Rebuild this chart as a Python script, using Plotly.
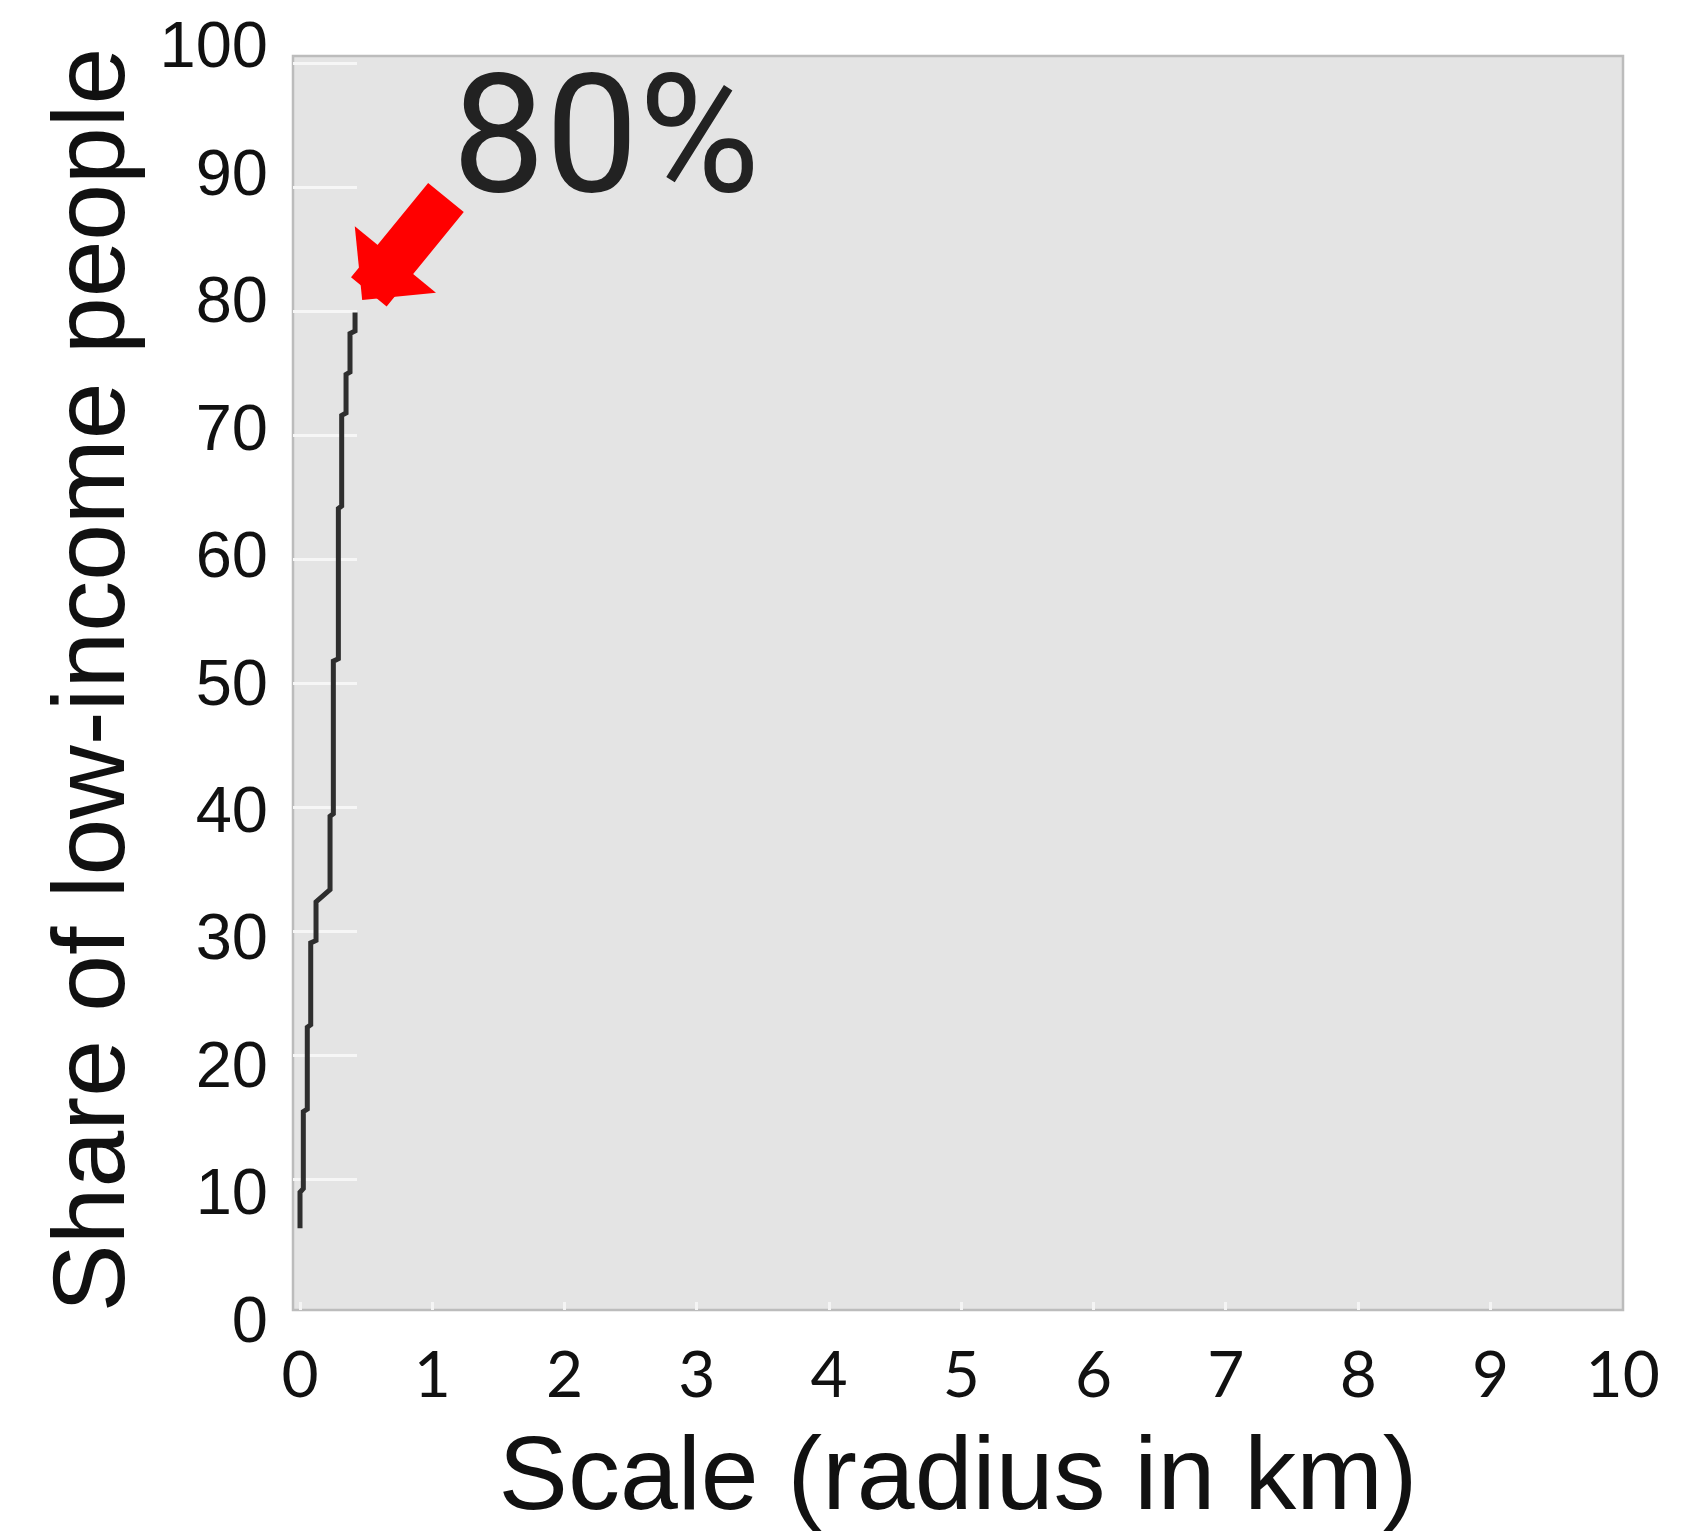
import plotly.graph_objects as go

# ---- data ----
radius_km = [0.0, 0.0, 0.025, 0.025, 0.055, 0.055, 0.081, 0.081, 0.121, 0.121,
             0.227, 0.227, 0.252, 0.252, 0.29, 0.29, 0.315, 0.315, 0.348, 0.348,
             0.378, 0.378, 0.416, 0.416]
share_pct = [6.1, 9.0, 9.3, 15.5, 15.7, 22.3, 22.5, 29.1, 29.3, 32.4,
             33.4, 39.3, 39.5, 51.8, 52.0, 64.1, 64.3, 71.6, 71.8, 74.9,
             75.1, 78.2, 78.4, 79.9]
x_ticks = list(range(0, 11))
y_ticks = list(range(0, 101, 10))
grid_ticks = list(range(10, 101, 10))
callout_text = "80%"
callout_point = (0.47, 80.9)
callout_label_pos = (2.31, 94.2)

W, H = 1691, 1540
BODY = 8  # default page body margin offset
M_L, M_R, M_T, M_B = 293 - BODY, 68 + BODY, 30 - BODY, 210 + BODY
paper_h = H - M_T - M_B
plot_top_px, plot_bot_px = 56, 1310
dom_lo = (1330 - plot_bot_px) / paper_h
dom_hi = (1330 - plot_top_px) / paper_h

fig = go.Figure()
# empty trace so the label axis is drawn
fig.add_trace(go.Scatter(x=[], y=[], xaxis="x", yaxis="y", showlegend=False, hoverinfo="skip"))
fig.add_trace(go.Scatter(
    x=radius_km, y=share_pct, xaxis="x", yaxis="y2", mode="lines",
    line=dict(color="#2e2e2e", width=5), showlegend=False,
))

# grey plot area with light border
fig.add_shape(type="rect", xref="paper", yref="paper", x0=0, x1=1, y0=dom_lo, y1=dom_hi,
              fillcolor="#e4e4e4", line=dict(color="#bcbcbc", width=2.5), layer="below")

label_font = dict(family="Liberation Sans, Arial, sans-serif", color="#111111")

fig.update_layout(
    width=W, height=H,
    margin=dict(l=M_L, r=M_R, t=M_T, b=M_B, autoexpand=False),
    paper_bgcolor="white", plot_bgcolor="rgba(0,0,0,0)",
    showlegend=False,
    xaxis=dict(
        range=[-0.053, 10.002], tickvals=x_ticks, ticktext=[str(v) for v in x_ticks],
        anchor="free", position=dom_lo, automargin=False,
        showgrid=False, zeroline=False, showline=False,
        ticks="inside", ticklen=8, tickwidth=3, tickcolor="#f4f4f4",
        tickfont=dict(family="Lato, sans-serif", size=64, color="#111111"),
        ticklabelstandoff=22,
        title=dict(text="Scale (radius in km)", font=dict(size=104, **label_font), standoff=26),
    ),
    yaxis=dict(
        range=[-0.863, 101.14], tickvals=y_ticks, ticktext=[str(v) for v in y_ticks],
        domain=[0, 1], automargin=False,
        showgrid=False, zeroline=False, showline=False, ticks="",
        tickfont=dict(size=65, **label_font), ticklabelstandoff=24,
        title=dict(text="Share of low-income people", font=dict(size=102, **label_font), standoff=0),
    ),
    yaxis2=dict(
        range=[-2.095, 102.66], overlaying="y", side="left", automargin=False,
        tickvals=grid_ticks, showticklabels=False,
        showgrid=False, zeroline=False, showline=False,
        ticks="inside", ticklen=64, tickwidth=3, tickcolor="#f6f6f6",
        layer="below traces",
    ),
)

fig.add_annotation(
    x=callout_point[0], y=callout_point[1], xref="x", yref="y2",
    ax=85, ay=-104, axref="pixel", ayref="pixel",
    showarrow=True, arrowhead=1, arrowwidth=46, arrowsize=0.38, arrowcolor="#ff0000",
    text="", standoff=0,
)
fig.add_annotation(
    x=callout_label_pos[0], y=callout_label_pos[1], xref="x", yref="y2",
    text=callout_text, showarrow=False, xanchor="center", yanchor="middle",
    font=dict(family="Roboto, Liberation Sans, sans-serif", size=166, color="#222222"),
)

fig.write_html("out.html")
